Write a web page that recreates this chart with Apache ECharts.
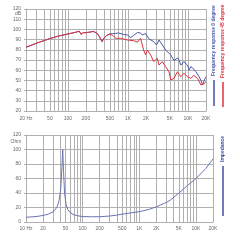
<!DOCTYPE html>
<html><head><meta charset="utf-8">
<script src="https://cdn.jsdelivr.net/npm/echarts@6/dist/echarts.min.js"></script>
<style>html,body{margin:0;padding:0;background:#fff}#c{width:240px;height:240px}</style>
</head><body><div id="c"></div>
<script>
// ---- data ----
const freqLabelsTop = [20, 50, 100, 200, 500, 1000, 2000, 5000, 10000, 20000];
const freqLabelsBottom = [10, 20, 50, 100, 200, 500, 1000, 2000, 5000, 10000, 20000];
const gridFreqsTop = [20,30,40,50,60,70,80,90,100,200,300,400,500,600,700,800,900,1000,2000,3000,4000,5000,6000,7000,8000,9000,10000,20000];
const gridFreqsBottom = [10,20,30,40,50,60,70,80,90,100,200,300,400,500,600,700,800,900,1000,2000,3000,4000,5000,6000,7000,8000,9000,10000,20000];

const fr0Freq = [20,30,50,70,100,130,155,165,180,200,240,265,300,330,370,400,440,500,560,620,700,750,850,984,1104,1240,1446,1520,1620,1734,1824,1970,2212,2388,2680,3000,3288,3750,4255,4548,5166,5860,6680,7112,7600,8530,9840,10470,11170,12540,13550,15380,16440,17540,18660,20000];
const fr0Val  = [82.5,86.5,91,93.5,95.5,97,98.2,95.2,96.8,96.8,97.5,98,96.5,93.5,88,91.5,94,95.5,95.8,96,96.5,96,95,94.5,92,94,97,97.8,96.5,94.5,95,96,91,90.3,88,84.7,89.6,84.7,79.8,78,75,69.4,72,70,65,68.4,65,60,63.5,61,58.6,53.6,50,45.5,50,53.6];

const fr45Freq = [20,30,50,70,100,130,155,165,180,200,240,265,300,330,370,400,440,500,560,620,750,984,1240,1446,1624,1734,1824,1970,2100,2388,2680,3090,3288,3750,4255,4840,5166,5860,6680,7600,8530,9840,11170,12540,14460,16440,17540,18660,20000];
const fr45Val  = [82.5,86.5,91,93.5,95.5,97,98.2,95.2,96.8,96.8,97.5,98,96.5,93.5,88,91.5,94,95.5,94,91.3,91.3,89.6,89,87.5,91.3,93,79.8,75,79.8,75,68.4,71.6,65,68.4,63.5,58.4,50.4,52,58.4,53.6,57,53.6,52,55,52,45.5,43.8,47,48.7];

const impFreq = [10,15,20,25,30,35,38,41,43,44.5,46,48,51,55,60,70,80,100,150,200,300,400,500,700,1000,1500,2000,3000,3500,5000,7000,10000,15000,20000];
const impVal  = [6.5,7.5,9,11,14,20,28,45,75,100,70,40,24,17,13,10,8.7,7.5,7.2,7.3,8.2,9.5,10.8,12.5,14.2,17.5,21,27,30,40,50,60,74,87];

// ---- helpers ----
const pairs = (xs, ys) => xs.map((x, i) => [x, ys[i]]);
const fmtF = (which) => (v) => {
  if (which === 'top' && v === freqLabelsTop[0]) return '20 Hz';
  if (which === 'bottom' && v === freqLabelsBottom[0]) return '10 Hz';
  return v >= 1000 ? (v / 1000) + 'K' : String(v);
};
const gridCol = '#b0b0b0';
const labCol = '#6a6a6a';
const labFont = {fontSize: 5, color: labCol, fontFamily: 'Liberation Sans'};

const chart = echarts.init(document.getElementById('c'), null, {renderer: 'canvas'});
chart.setOption({
  animation: false,
  backgroundColor: '#fff',
  grid: [
    {left: 26, top: 9, width: 180, height: 102},
    {left: 26, top: 135, width: 187, height: 87}
  ],
  xAxis: [
    {gridIndex: 0, type: 'log', logBase: 10, min: 20, max: 20000,
     axisLine: {show: true, lineStyle: {color: gridCol}},
     axisTick: {show: false, customValues: gridFreqsTop},
     splitLine: {show: true, lineStyle: {color: gridCol, width: 1}},
     axisLabel: Object.assign({customValues: freqLabelsTop, formatter: fmtF('top'), margin: 5, showMinLabel: true, showMaxLabel: true}, labFont)},
    {gridIndex: 1, type: 'log', logBase: 10, min: 10, max: 20000,
     axisLine: {show: true, lineStyle: {color: gridCol}},
     axisTick: {show: false, customValues: gridFreqsBottom},
     splitLine: {show: true, lineStyle: {color: gridCol, width: 1}},
     axisLabel: Object.assign({customValues: freqLabelsBottom, formatter: fmtF('bottom'), margin: 4, showMinLabel: true, showMaxLabel: true}, labFont)}
  ],
  yAxis: [
    {gridIndex: 0, type: 'value', min: 20, max: 120, interval: 10,
     axisLine: {show: true, lineStyle: {color: gridCol}},
     axisTick: {show: true, length: 2, lineStyle: {color: gridCol}},
     splitLine: {show: true, lineStyle: {color: gridCol, width: 1}},
     axisLabel: Object.assign({margin: 5}, labFont)},
    {gridIndex: 1, type: 'value', min: 0, max: 120, interval: 20,
     axisLine: {show: true, lineStyle: {color: gridCol}},
     axisTick: {show: true, length: 2, lineStyle: {color: gridCol}},
     splitLine: {show: true, lineStyle: {color: gridCol, width: 1}},
     axisLabel: Object.assign({margin: 5}, labFont)}
  ],
  series: [
    {name: 'Frequency response 0 degree', type: 'line', xAxisIndex: 0, yAxisIndex: 0,
     data: pairs(fr0Freq, fr0Val), showSymbol: false, lineStyle: {color: '#4a58a8', width: 1}, z: 3},
    {name: 'Frequency response 45 degree', type: 'line', xAxisIndex: 0, yAxisIndex: 0,
     data: pairs(fr45Freq, fr45Val), showSymbol: false, lineStyle: {color: '#e0323c', width: 1}, z: 4},
    {name: 'Impedance', type: 'line', xAxisIndex: 1, yAxisIndex: 1,
     data: pairs(impFreq, impVal), showSymbol: false, lineStyle: {color: '#6b74b4', width: 1}, z: 3}
  ],
  graphic: [
    {type: 'text', x: 18, y: 14, style: {text: 'dB', fill: labCol, font: '5px "Liberation Sans"', textAlign: 'center', textVerticalAlign: 'middle'}},
    {type: 'text', x: 16, y: 142, style: {text: 'Ohm', fill: labCol, font: '5px "Liberation Sans"', textAlign: 'center', textVerticalAlign: 'middle'}},
    {type: 'text', x: 214, y: 76, rotation: Math.PI / 2, style: {text: 'Frequency response 0 degree', fill: '#4a58a8', font: 'bold 5px "Liberation Sans"', textAlign: 'left', textVerticalAlign: 'middle'}},
    {type: 'line', shape: {x1: 214, y1: 80, x2: 214, y2: 106}, style: {stroke: '#3f4fa6', lineWidth: 1.5}},
    {type: 'text', x: 223, y: 78, rotation: Math.PI / 2, style: {text: 'Frequency response 45 degree', fill: '#e0323c', font: 'bold 5px "Liberation Sans"', textAlign: 'left', textVerticalAlign: 'middle'}},
    {type: 'line', shape: {x1: 223, y1: 82, x2: 223, y2: 107}, style: {stroke: '#e0323c', lineWidth: 1.5}},
    {type: 'text', x: 223, y: 162, rotation: Math.PI / 2, style: {text: 'Impedance', fill: '#3f4fa6', font: 'bold 5px "Liberation Sans"', textAlign: 'left', textVerticalAlign: 'middle'}},
    {type: 'line', shape: {x1: 223, y1: 166, x2: 223, y2: 216}, style: {stroke: '#3f4fa6', lineWidth: 1.5}}
  ]
});
</script></body></html>
